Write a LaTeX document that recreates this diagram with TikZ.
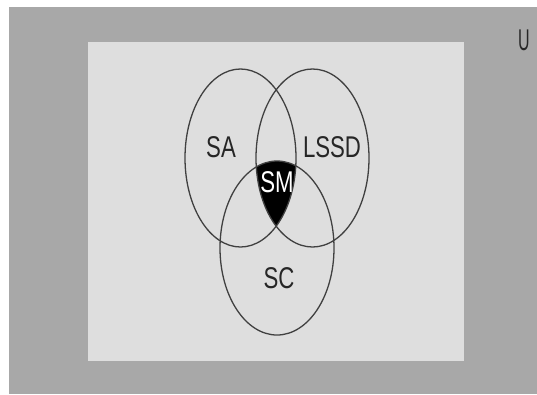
\documentclass[tikz,border=0pt]{standalone}
\usepackage{fontspec}
\setmainfont{Liberation Sans}
\definecolor{outergray}{HTML}{A8A8A8}
\definecolor{innergray}{HTML}{DEDEDE}
\definecolor{linegray}{HTML}{404040}
\begin{document}
\begin{tikzpicture}[x=1pt,y=-1pt,
  setline/.style={draw=linegray,line width=1.3pt},
  lbl/.style={font=\fontsize{30}{32}\selectfont,text=black!85,xscale=0.74,inner sep=0pt}]
\useasboundingbox (0,0) rectangle (537,394);
\fill[white] (0,0) rectangle (537,394);
\fill[outergray] (9,7) rectangle (537,394);
\fill[innergray] (88,42) rectangle (464,361);
\begin{scope}
  \clip (240.5,158) ellipse [x radius=55.5, y radius=89];
  \clip (312.5,158) ellipse [x radius=56.5, y radius=89];
  \fill[black] (277,248) ellipse [x radius=57, y radius=87];
\end{scope}
\draw[setline] (240.5,158) ellipse [x radius=55.5, y radius=89];
\draw[setline] (312.5,158) ellipse [x radius=56.5, y radius=89];
\draw[setline] (277,248) ellipse [x radius=57, y radius=87];
\node[lbl] (sa) at (221,147) {SA};
\node[lbl] (lssd) at (332,147) {LSSD};
\node[lbl,text=white] (sm) at (277,182) {SM};
\node[lbl] (sc) at (279,278) {SC};
\node[lbl,xscale=0.72] (u) at (524,40) {U};
\end{tikzpicture}
\end{document}
